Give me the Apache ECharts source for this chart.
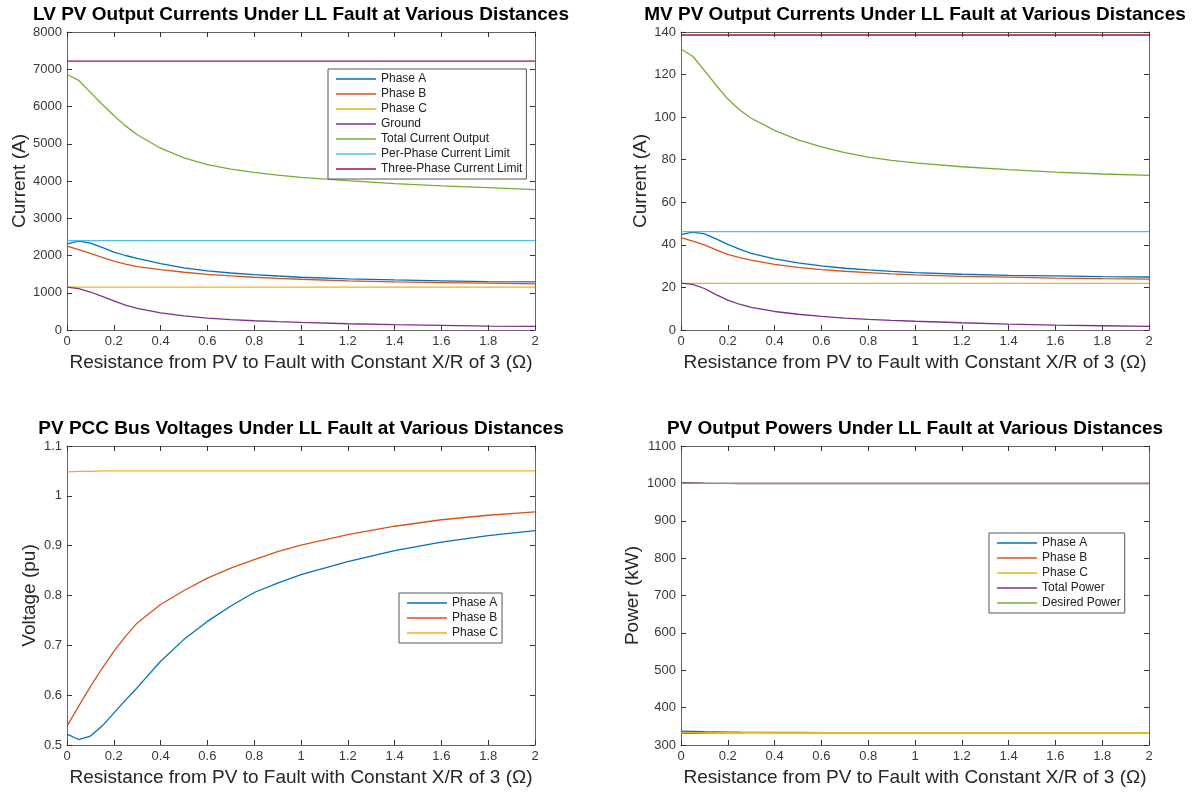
<!DOCTYPE html>
<html>
<head>
<meta charset="utf-8">
<script src="https://cdn.jsdelivr.net/npm/echarts@6/dist/echarts.min.js"></script>
<style>
html,body{margin:0;padding:0;background:#fff;}
#chart{width:1201px;height:794px;}
</style>
</head>
<body>
<div id="chart"></div>
<script>
// ---- shared x values (resistance, ohm) ----
const xs = [0, 0.05, 0.1, 0.15, 0.2, 0.25, 0.3, 0.4, 0.5, 0.6, 0.7, 0.8, 0.9, 1.0, 1.2, 1.4, 1.6, 1.8, 2.0];
const xLimit = [0, 2];

// ---- LV currents (A) ----
const lvPhaseA = [2310, 2385, 2330, 2220, 2090, 2000, 1920, 1780, 1670, 1585, 1530, 1487, 1450, 1416, 1372, 1345, 1320, 1300, 1290];
const lvPhaseB = [2250, 2160, 2060, 1950, 1850, 1770, 1700, 1619, 1550, 1496, 1452, 1416, 1385, 1363, 1320, 1292, 1274, 1257, 1240];
const lvPhaseC = [1150, 1150, 1150, 1150, 1150, 1150, 1150, 1150, 1150, 1150, 1150, 1150, 1150, 1150, 1150, 1150, 1150, 1150, 1150];
const lvGround = [1150, 1110, 1020, 900, 780, 670, 580, 460, 380, 320, 280, 248, 224, 204, 168, 142, 124, 106, 97];
const lvTotal = [6860, 6700, 6380, 6060, 5760, 5480, 5240, 4880, 4620, 4440, 4320, 4230, 4160, 4100, 4010, 3930, 3870, 3820, 3770];
const lvPerPhaseLimit = [2400, 2400];
const lvThreePhaseLimit = [7220, 7220];

// ---- MV currents (A) ----
const mvPhaseA = [44.8, 46.0, 45.2, 42.8, 40.2, 38.0, 36.0, 33.4, 31.5, 30.1, 29.0, 28.2, 27.5, 27.0, 26.2, 25.7, 25.4, 25.1, 24.9];
const mvPhaseB = [43.4, 41.8, 40.0, 37.6, 35.5, 34.0, 32.8, 30.8, 29.4, 28.4, 27.6, 27.0, 26.4, 25.9, 25.2, 24.8, 24.4, 24.1, 23.9];
const mvPhaseC = [21.9, 21.9, 21.9, 21.9, 21.9, 21.9, 21.9, 21.9, 21.9, 21.9, 21.9, 21.9, 21.9, 21.9, 21.9, 21.9, 21.9, 21.9, 21.9];
const mvGround = [22.0, 21.4, 19.5, 16.6, 14.0, 12.1, 10.6, 8.7, 7.4, 6.4, 5.6, 5.0, 4.5, 4.1, 3.4, 2.8, 2.3, 2.0, 1.7];
const mvTotal = [132, 128.6, 122, 115, 108.5, 103.5, 99.5, 93.8, 89.3, 86.0, 83.3, 81.2, 79.7, 78.5, 76.7, 75.3, 74.2, 73.3, 72.6];
const mvPerPhaseLimit = [46.2, 46.2];
const mvThreePhaseLimit = [138.6, 138.6];

// ---- PCC bus voltages (pu) ----
const pccPhaseA = [0.522, 0.511, 0.518, 0.538, 0.564, 0.590, 0.615, 0.668, 0.712, 0.748, 0.779, 0.806, 0.825, 0.842, 0.868, 0.890, 0.907, 0.920, 0.930];
const pccPhaseB = [0.538, 0.578, 0.617, 0.654, 0.688, 0.718, 0.745, 0.782, 0.810, 0.835, 0.855, 0.872, 0.888, 0.901, 0.922, 0.939, 0.952, 0.961, 0.968];
const pccPhaseC = [1.048, 1.049, 1.049, 1.050, 1.050, 1.050, 1.050, 1.050, 1.050, 1.050, 1.050, 1.050, 1.050, 1.050, 1.050, 1.050, 1.050, 1.050, 1.050];

// ---- PV output powers (kW) ----
const pwrPhaseA = [337, 336.5, 335.8, 335.2, 334.6, 334.1, 333.8, 333.5, 333.4, 333.3, 333.3, 333.3, 333.3, 333.3, 333.3, 333.3, 333.3, 333.3, 333.3];
const pwrPhaseB = [331, 331.4, 331.8, 332.2, 332.5, 332.8, 333.0, 333.1, 333.2, 333.2, 333.2, 333.2, 333.2, 333.2, 333.2, 333.2, 333.2, 333.2, 333.2];
const pwrPhaseC = [333.3, 333.3, 333.3, 333.3, 333.3, 333.3, 333.3, 333.3, 333.3, 333.3, 333.3, 333.3, 333.3, 333.3, 333.3, 333.3, 333.3, 333.3, 333.3];
const pwrTotal = [1002, 1001.3, 1000.6, 1000.2, 999.9, 999.7, 999.6, 999.6, 999.6, 999.6, 999.6, 999.6, 999.6, 999.6, 999.6, 999.6, 999.6, 999.6, 999.6];
const pwrDesired = [1000, 1000];

// ---- texts ----
const titles = [
  'LV PV Output Currents Under LL Fault at Various Distances',
  'MV PV Output Currents Under LL Fault at Various Distances',
  'PV PCC Bus Voltages Under LL Fault at Various Distances',
  'PV Output Powers Under LL Fault at Various Distances'
];
const xAxisName = 'Resistance from PV to Fault with Constant X/R of 3 (\u03A9)';
const yAxisNames = ['Current (A)', 'Current (A)', 'Voltage (pu)', 'Power (kW)'];

const C = {
  a: '#0072BD', b: '#D95319', c: '#EDB120', d: '#7E2F8E',
  e: '#77AC30', f: '#4DBEEE', g: '#A2142F'
};
const FONT = '"Liberation Sans", Arial, Helvetica, sans-serif';

function pairs(x, y) { return x.map((v, i) => [v, y[i]]); }

const grids = [
  {left: 67, top: 32, width: 468, height: 298},
  {left: 681, top: 32, width: 468, height: 298},
  {left: 67, top: 446, width: 468, height: 299},
  {left: 681, top: 446, width: 468, height: 299}
];
const yRanges = [
  {min: 0, max: 8000, interval: 1000, gap: 38},
  {min: 0, max: 140, interval: 20, gap: 31},
  {min: 0.5, max: 1.1, interval: 0.1, gap: 28},
  {min: 300, max: 1100, interval: 100, gap: 39}
];

const axisLineStyle = {color: '#666', width: 1};
const tickStyle = {show: true, inside: true, length: 5, lineStyle: {color: '#333', width: 1}};
const labelStyle = {color: '#383838', fontSize: 13, fontFamily: FONT};

const xAxes = [], yAxes = [];
grids.forEach((g, i) => {
  xAxes.push({
    type: 'value', gridIndex: i, min: 0, max: 2, interval: 0.2, position: 'bottom',
    axisLine: {show: true, onZero: false, lineStyle: axisLineStyle},
    axisTick: tickStyle, splitLine: {show: false},
    axisLabel: Object.assign({margin: 5, formatter: v => String(+v.toFixed(2))}, labelStyle),
    name: xAxisName, nameLocation: 'middle', nameGap: 23,
    nameTextStyle: {color: '#262626', fontSize: 19, fontFamily: FONT}
  });
  xAxes.push({
    type: 'value', gridIndex: i, min: 0, max: 2, interval: 0.2, position: 'top',
    axisLine: {show: true, onZero: false, lineStyle: axisLineStyle},
    axisTick: tickStyle, splitLine: {show: false}, axisLabel: {show: false}
  });
  const r = yRanges[i];
  yAxes.push({
    type: 'value', gridIndex: i, min: r.min, max: r.max, interval: r.interval, position: 'left',
    axisLine: {show: true, onZero: false, lineStyle: axisLineStyle},
    axisTick: tickStyle, splitLine: {show: false},
    axisLabel: Object.assign({margin: 5, formatter: v => String(+v.toFixed(2))}, labelStyle),
    name: yAxisNames[i], nameLocation: 'middle', nameGap: r.gap, nameRotate: 90,
    nameTextStyle: {color: '#262626', fontSize: 19, fontFamily: FONT}
  });
  yAxes.push({
    type: 'value', gridIndex: i, min: r.min, max: r.max, interval: r.interval, position: 'right',
    axisLine: {show: true, onZero: false, lineStyle: axisLineStyle},
    axisTick: tickStyle, splitLine: {show: false}, axisLabel: {show: false}
  });
});

function line(name, grid, x, y, color) {
  return {
    name: name, type: 'line', xAxisIndex: grid * 2, yAxisIndex: grid * 2,
    data: pairs(x, y), symbol: 'none', smooth: false,
    lineStyle: {color: color, width: 1.3}, itemStyle: {color: color},
    animation: false
  };
}

const series = [
  line('Phase A', 0, xs, lvPhaseA, C.a),
  line('Phase B', 0, xs, lvPhaseB, C.b),
  line('Phase C', 0, xs, lvPhaseC, C.c),
  line('Ground', 0, xs, lvGround, C.d),
  line('Total Current Output', 0, xs, lvTotal, C.e),
  line('Per-Phase Current Limit', 0, xLimit, lvPerPhaseLimit, C.f),
  line('Three-Phase Current Limit', 0, xLimit, lvThreePhaseLimit, C.g),

  line('Phase A', 1, xs, mvPhaseA, C.a),
  line('Phase B', 1, xs, mvPhaseB, C.b),
  line('Phase C', 1, xs, mvPhaseC, C.c),
  line('Ground', 1, xs, mvGround, C.d),
  line('Total Current Output', 1, xs, mvTotal, C.e),
  line('Per-Phase Current Limit', 1, xLimit, mvPerPhaseLimit, C.f),
  line('Three-Phase Current Limit', 1, xLimit, mvThreePhaseLimit, C.g),

  line('Phase A', 2, xs, pccPhaseA, C.a),
  line('Phase B', 2, xs, pccPhaseB, C.b),
  line('Phase C', 2, xs, pccPhaseC, C.c),

  line('Phase A', 3, xs, pwrPhaseA, C.a),
  line('Phase B', 3, xs, pwrPhaseB, C.b),
  line('Phase C', 3, xs, pwrPhaseC, C.c),
  line('Total Power', 3, xs, pwrTotal, C.d),
  line('Desired Power', 3, xLimit, pwrDesired, C.e)
];

function legend(names, left, top) {
  return {
    data: names, orient: 'vertical', left: left, top: top,
    icon: 'rect', itemWidth: 40, itemHeight: 1.3, itemGap: 1,
    padding: [3, 4, 3, 8], borderColor: '#555', borderWidth: 1,
    backgroundColor: '#fff', selectedMode: false,
    textStyle: {color: '#222', fontSize: 12, fontFamily: FONT, lineHeight: 14},
    z: 10
  };
}

const legends = [
  legend(['Phase A', 'Phase B', 'Phase C', 'Ground', 'Total Current Output', 'Per-Phase Current Limit', 'Three-Phase Current Limit'], 328, 69),
  legend(['Phase A', 'Phase B', 'Phase C'], 399, 593),
  legend(['Phase A', 'Phase B', 'Phase C', 'Total Power', 'Desired Power'], 989, 533)
];

const titleGraphics = titles.map((t, i) => ({
  type: 'text',
  x: grids[i].left + grids[i].width / 2,
  y: i < 2 ? 5 : 419,
  style: {text: t, textAlign: 'center', textVerticalAlign: 'top', fill: '#000',
          font: 'bold 19px ' + FONT}
}));

const chart = echarts.init(document.getElementById('chart'), null, {renderer: 'canvas'});
chart.setOption({
  backgroundColor: '#fff',
  animation: false,
  grid: grids,
  xAxis: xAxes,
  yAxis: yAxes,
  legend: legends,
  series: series,
  graphic: titleGraphics
});
</script>
</body>
</html>
